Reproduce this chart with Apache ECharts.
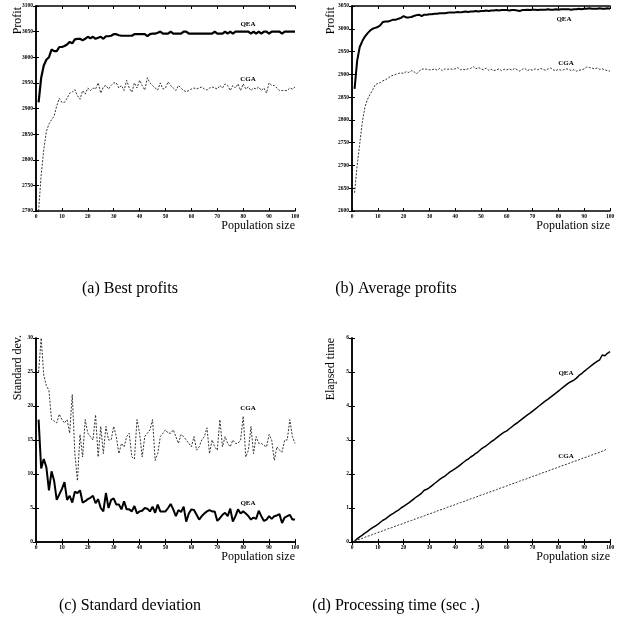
<!DOCTYPE html>
<html><head><meta charset="utf-8">
<script src="https://cdn.jsdelivr.net/npm/echarts@6/dist/echarts.min.js"></script>
<style>html,body{margin:0;padding:0;background:#fff}#c{width:618px;height:630px}</style>
</head><body><div id="c"></div>
<script>
// Population sizes (x values)
const popSizes = [];
for (let i = 1; i <= 100; i++) popSizes.push(i);

const xTicks = [0,10,20,30,40,50,60,70,80,90,100];

// (a) Best profits
const bestQEA = [2912,2960,2984,2995,3000,3015,3012,3012,3020,3020,3022,3025,3030,3027,3035,3036,3036,3033,3036,3040,
3037,3040,3036,3038,3040,3036,3041,3041,3042,3045,3045,3043,3042,3042,3042,3042,3042,3045,3045,3045,
3045,3045,3041,3045,3046,3046,3048,3050,3046,3046,3046,3050,3046,3046,3046,3046,3050,3050,3046,3046,
3046,3046,3046,3046,3046,3046,3046,3046,3050,3046,3046,3046,3050,3046,3050,3046,3050,3050,3050,3050,
3050,3050,3046,3050,3046,3050,3046,3050,3050,3046,3050,3050,3050,3050,3046,3050,3050,3050,3050,3050];
const bestCGA = [2700,2770,2820,2855,2870,2878,2885,2905,2920,2912,2912,2920,2930,2932,2937,2925,2918,2935,2928,2940,
2935,2940,2938,2950,2930,2942,2945,2938,2945,2950,2950,2940,2945,2935,2955,2940,2932,2950,2940,2955,
2945,2936,2960,2950,2945,2940,2936,2950,2938,2940,2952,2945,2940,2935,2945,2940,2935,2933,2935,2938,
2940,2938,2940,2942,2938,2936,2940,2942,2940,2938,2945,2940,2948,2945,2935,2945,2940,2948,2935,2948,
2938,2942,2935,2940,2938,2942,2935,2940,2930,2950,2945,2945,2940,2935,2935,2935,2935,2940,2938,2942];

// (b) Average profits
const avgQEA = [2868,2930,2960,2973,2983,2990,2996,3000,3002,3004,3008,3015,3016,3016,3018,3020,3020,3022,3024,3028,
3025,3025,3026,3028,3030,3031,3028,3031,3031,3032,3032,3033,3033,3034,3034,3034,3035,3036,3036,3036,
3037,3036,3037,3038,3037,3038,3038,3039,3038,3039,3039,3040,3039,3040,3040,3041,3040,3041,3041,3041,
3040,3041,3041,3040,3039,3041,3041,3042,3041,3042,3042,3041,3042,3042,3042,3043,3042,3042,3043,3042,
3043,3043,3043,3043,3042,3043,3043,3044,3043,3044,3044,3045,3044,3044,3044,3045,3044,3044,3045,3044];
const avgCGA = [2640,2700,2748,2795,2828,2845,2856,2866,2877,2880,2882,2886,2888,2892,2896,2898,2900,2902,2903,2902,
2906,2904,2908,2906,2901,2907,2911,2912,2911,2910,2910,2912,2909,2913,2908,2912,2911,2912,2911,2912,
2915,2910,2911,2910,2912,2913,2917,2912,2915,2912,2910,2914,2909,2911,2908,2910,2912,2908,2911,2910,
2912,2909,2913,2910,2907,2911,2913,2908,2911,2909,2912,2910,2913,2911,2909,2912,2914,2910,2908,2911,
2909,2910,2912,2911,2908,2910,2907,2909,2910,2912,2916,2915,2914,2912,2914,2911,2912,2910,2908,2907];

// (c) Standard deviation
const sdCGA = [25,30,24.5,23,22.3,18,17.8,17.5,18.8,18,17.5,18,16,21.7,13,9,15.8,12.5,18,16,
15.5,15,18.7,12.5,17,13,17,15,15,17,15.5,13,14.5,14,15.5,16,12.5,12.2,18,16,
12.5,15.5,16,16.5,18,12,13,15.5,16,16.5,16,16,16.5,15.5,14.5,15.8,15.5,15,14.5,14,
15.5,13.5,14,15,15.5,16.8,13,15,14,13.5,18,14,15.5,14.5,14,15,14.5,14.5,15,18.5,
12.5,13.5,17,13,15.5,14.5,14.5,14.2,14,15.8,15,12,14,13.5,13.2,15,15,18,15.5,14.5];
const sdQEA = [18,10.8,12.2,11,7.6,10.4,9,6.2,7,7.8,8.8,6.2,6.8,5.8,7.4,7.2,7.6,5.8,6,6.3,
6.5,6.8,5.7,6.3,5,4.5,7.2,5,6.2,6.4,5.5,5.5,4.8,6,4.8,4.8,4.5,5.3,4.2,4.5,
4.6,5,4.9,4.5,5.2,4.3,5.5,4.5,4.5,4.5,5,5.6,4.8,3.8,4.7,4.4,5.2,3,4.2,4.8,
4.7,4,3.3,3.8,4.2,4.5,4.7,4.5,4.5,3.1,3.5,4,4.3,3.8,4.9,3,3.8,4.8,4.2,4.5,
4.2,3.8,3.3,3.6,3.4,4.6,3.8,3.1,3.3,3.8,3.4,3.8,3.9,4.1,2.8,3.6,3.8,4,3.3,3.3];

// (d) Processing time
const timeQEA = [0.03,0.09,0.15,0.2,0.26,0.31,0.37,0.42,0.47,0.52,0.58,0.64,0.68,0.74,0.8,0.84,0.89,0.94,1.0,1.05,
1.1,1.15,1.21,1.27,1.33,1.38,1.44,1.52,1.55,1.6,1.66,1.72,1.78,1.84,1.89,1.94,2.0,2.06,2.11,2.16,
2.21,2.27,2.33,2.39,2.44,2.5,2.55,2.61,2.66,2.73,2.78,2.83,2.89,2.95,3.0,3.06,3.12,3.18,3.23,3.27,
3.33,3.39,3.45,3.5,3.56,3.62,3.68,3.74,3.79,3.85,3.91,3.97,4.03,4.09,4.15,4.2,4.26,4.32,4.38,4.44,
4.5,4.56,4.62,4.68,4.72,4.76,4.82,4.9,4.95,5.02,5.08,5.14,5.2,5.26,5.31,5.36,5.5,5.48,5.55,5.6];
const timeCGA = [0.03,0.06,0.08,0.11,0.14,0.17,0.19,0.22,0.25,0.28,0.3,0.33,0.36,0.39,0.41,0.44,0.47,0.5,0.52,0.55,
0.58,0.61,0.63,0.66,0.69,0.72,0.74,0.77,0.8,0.83,0.85,0.88,0.91,0.94,0.96,0.99,1.02,1.05,1.07,1.1,
1.13,1.16,1.18,1.21,1.24,1.27,1.29,1.32,1.35,1.38,1.4,1.43,1.46,1.49,1.51,1.54,1.57,1.6,1.62,1.65,
1.68,1.71,1.73,1.76,1.79,1.82,1.84,1.87,1.9,1.93,1.95,1.98,2.01,2.04,2.06,2.09,2.12,2.15,2.17,2.2,
2.23,2.26,2.28,2.31,2.34,2.37,2.39,2.42,2.45,2.48,2.5,2.53,2.56,2.59,2.61,2.64,2.67,2.7,2.75];

const panels = [
  {grid:{left:36,top:6,width:259,height:205}, yMin:2700, yMax:3100, yInt:50, q:bestQEA, c:bestCGA, qw:2.2},
  {grid:{left:352,top:6,width:258,height:205}, yMin:2600, yMax:3050, yInt:50, q:avgQEA, c:avgCGA, qw:2},
  {grid:{left:36,top:338,width:259,height:204}, yMin:0, yMax:30, yInt:5, q:sdQEA, c:sdCGA, qw:2},
  {grid:{left:352,top:338,width:258,height:204}, yMin:0, yMax:6, yInt:1, q:timeQEA, c:timeCGA, qw:1.5}
];

const FONT = 'Liberation Serif';
const grids = [], xAxes = [], yAxes = [], series = [];
panels.forEach((p, i) => {
  grids.push(Object.assign({containLabel:false}, p.grid));
  const lbl = {fontFamily:FONT, fontWeight:'bold', fontSize:5.5, color:'#000', margin:3, formatter:v => String(v)};
  const axLine = {show:true, lineStyle:{color:'#000', width:1.5}};
  const tick = {show:true, inside:true, length:3, lineStyle:{color:'#000', width:1}};
  xAxes.push({type:'value', gridIndex:i, min:0, max:100, interval:10, position:'bottom',
    axisLine:axLine, axisTick:tick, axisLabel:lbl, splitLine:{show:false}});
  xAxes.push({type:'value', gridIndex:i, min:0, max:100, interval:10, position:'top',
    axisLine:axLine, axisTick:tick, axisLabel:{show:false}, splitLine:{show:false}});
  yAxes.push({type:'value', gridIndex:i, min:p.yMin, max:p.yMax, interval:p.yInt, position:'left',
    axisLine:axLine, axisTick:tick, axisLabel:lbl, splitLine:{show:false}});
  yAxes.push({type:'value', gridIndex:i, min:p.yMin, max:p.yMax, interval:p.yInt, position:'right',
    axisLine:axLine, axisTick:tick, axisLabel:{show:false}, splitLine:{show:false}});
  series.push({type:'line', name:'QEA', xAxisIndex:2*i, yAxisIndex:2*i, showSymbol:false, silent:true,
    data:p.q.map((v,k)=>[popSizes[k], v]), lineStyle:{color:'#000', width:p.qw}});
  series.push({type:'line', name:'CGA', xAxisIndex:2*i, yAxisIndex:2*i, showSymbol:false, silent:true,
    data:p.c.map((v,k)=>[popSizes[k], v]), lineStyle:{color:'#333', width:1, type:[2,1.5]}});
});

const txt = (x,y,t,size,opts) => Object.assign({type:'text', x:x, y:y,
  style:{text:t, font:(opts&&opts.bold?'bold ':'')+size+'px "'+FONT+'"', fill:'#000',
  textAlign:(opts&&opts.align)||'center', textVerticalAlign:'middle'}}, (opts&&opts.rot)?{rotation:opts.rot}:{});

const graphic = [
  txt(17.5,7,'Profit',12,{align:'right',rot:Math.PI/2}),
  txt(331,7,'Profit',12,{align:'right',rot:Math.PI/2}),
  txt(17.5,335,'Standard dev.',12,{align:'right',rot:Math.PI/2}),
  txt(331,338,'Elapsed time',12,{align:'right',rot:Math.PI/2}),
  txt(295,226,'Population size',12,{align:'right'}),
  txt(610,226,'Population size',12,{align:'right'}),
  txt(295,557,'Population size',12,{align:'right'}),
  txt(610,557,'Population size',12,{align:'right'}),
  txt(248,24,'QEA',7,{bold:true}),
  txt(248,79,'CGA',7,{bold:true}),
  txt(564,19,'QEA',7,{bold:true}),
  txt(566,63,'CGA',7,{bold:true}),
  txt(248,408,'CGA',7,{bold:true}),
  txt(248,503,'QEA',7,{bold:true}),
  txt(566,373,'QEA',7,{bold:true}),
  txt(566,456,'CGA',7,{bold:true}),
  txt(130,289,'(a) Best profits',16),
  txt(396,289,'(b) Average profits',16),
  txt(130,606,'(c) Standard deviation',16),
  txt(396,606,'(d) Processing time (sec .)',16)
];

const chart = echarts.init(document.getElementById('c'), null, {renderer:'canvas'});
chart.setOption({animation:false, backgroundColor:'#fff', grid:grids, xAxis:xAxes, yAxis:yAxes, series:series, graphic:graphic});
</script></body></html>
